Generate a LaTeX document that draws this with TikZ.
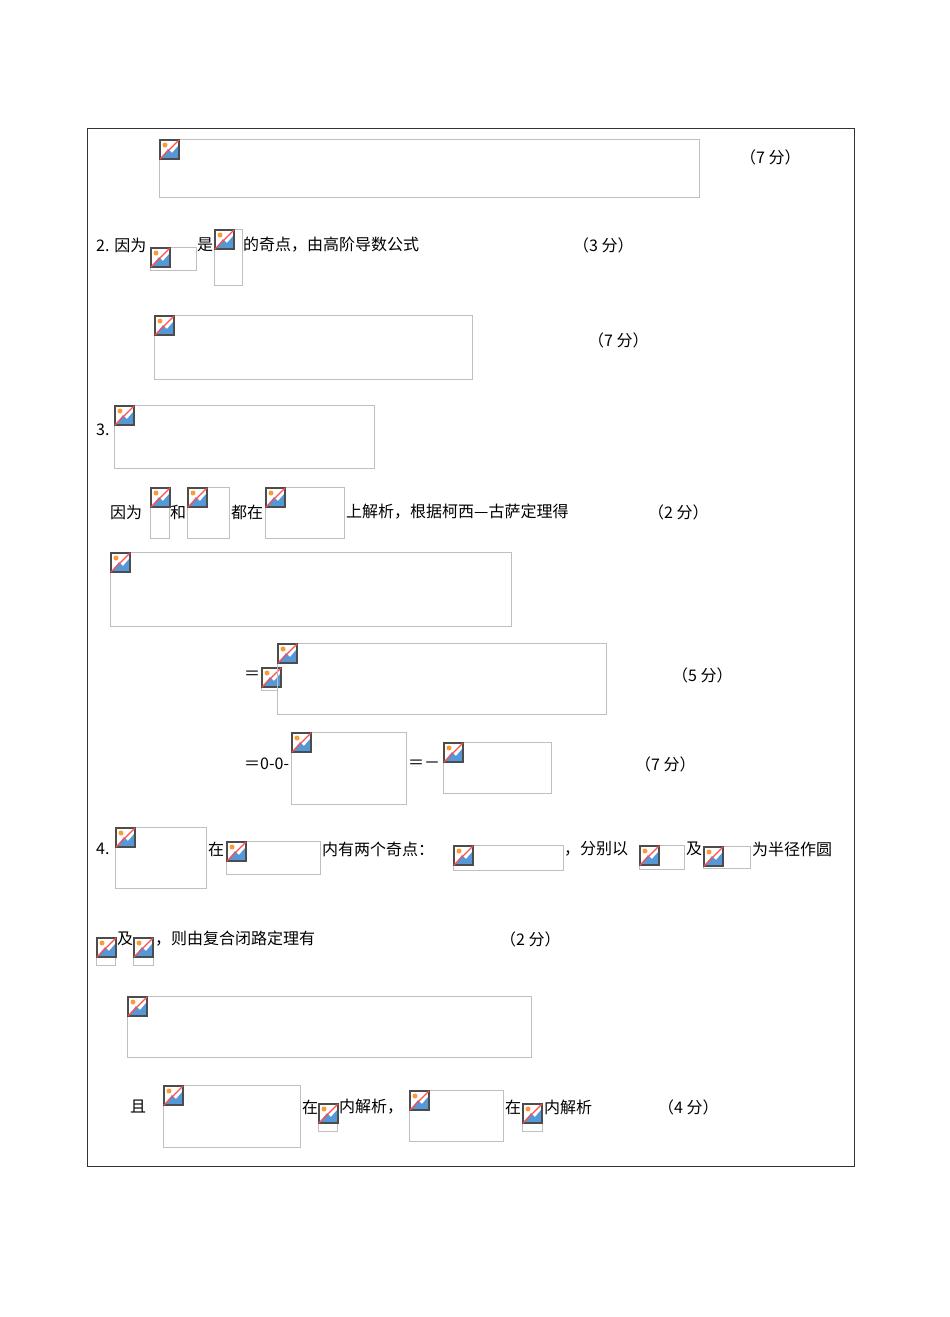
\documentclass[tikz,border=0pt]{standalone}
\usepackage{fontspec}
\setmainfont{Liberation Serif}
\newfontfamily\cjk{Noto Sans CJK SC}
\newcommand\phb[4]{%
  \draw[black!25] (#1,#2) rectangle (#3,#4);
  \begin{scope}[shift={(#1+1,#2+1)}]
    \fill[white] (0,0) rectangle (19,19);
    \fill[cyan!60!blue!70] (1,18) -- (8,9) -- (12,13) -- (18,6) -- (18,18) -- cycle;
    \fill[orange!80] (5,5) circle (2.5);
    \draw[black!70,line width=1.2] (0,0) rectangle (19,19);
    \draw[red!70,line width=1.2] (0,19) -- (19,0);
  \end{scope}}
\tikzset{t/.style={anchor=west,inner sep=0,font=\cjk\fontsize{16}{18}\selectfont}}
\begin{document}
\begin{tikzpicture}[x=1pt,y=-1pt]
\useasboundingbox (0,0) rectangle (950,1317);
\fill[white] (0,0) rectangle (950,1317);
\draw[black!80] (87,128) rectangle (854,1166);
\phb{159}{139}{699}{197}
\node[t] (s1) at (740,157) {（7 分）};
\node[t] (a1) at (96,245) {2. 因为};
\phb{150}{247}{196}{270}
\node[t] (a2) at (197,245) {是};
\phb{214}{229}{242}{285}
\node[t] (a3) at (243,245) {的奇点，由高阶导数公式};
\node[t] (s2) at (573,245) {（3 分）};
\phb{154}{315}{472}{379}
\node[t] (s3) at (588,340) {（7 分）};
\node[t] (b1) at (96,430) {3.};
\phb{114}{405}{374}{468}
\node[t] (b2) at (110,512) {因为};
\phb{150}{487}{169}{538}
\node[t] (b3) at (170,512) {和};
\phb{187}{487}{229}{538}
\node[t] (b4) at (231,512) {都在};
\phb{265}{487}{344}{538}
\node[t] (b5) at (346,512) {上解析，根据柯西—古萨定理得};
\node[t] (s4) at (648,512) {（2 分）};
\phb{110}{552}{511}{626}
\node[t] (c1) at (244,675) {＝};
\phb{261}{667}{277}{690}
\phb{277}{643}{606}{714}
\node[t] (s5) at (672,675) {（5 分）};
\node[t] (d1) at (244,764) {＝0-0-};
\phb{291}{732}{406}{804}
\node[t] (d2) at (408,764) {＝－};
\phb{443}{742}{551}{793}
\node[t] (s6) at (635,764) {（7 分）};
\node[t] (e1) at (96,849) {4.};
\phb{115}{827}{206}{888}
\node[t] (e2) at (208,849) {在};
\phb{226}{841}{320}{874}
\node[t] (e3) at (322,849) {内有两个奇点：};
\phb{453}{845}{563}{870}
\node[t] (e4) at (564,849) {，分别以};
\phb{639}{845}{684}{869}
\node[t] (e5) at (686,849) {及};
\phb{703}{846}{750}{868}
\node[t] (e6) at (752,849) {为半径作圆};
\phb{96}{937}{115}{965}
\node[t] (f1) at (117,939) {及};
\phb{133}{937}{153}{965}
\node[t] (f2) at (155,939) {，则由复合闭路定理有};
\node[t] (s7) at (500,939) {（2 分）};
\phb{127}{996}{531}{1057}
\node[t] (g1) at (130,1107) {且};
\phb{163}{1085}{300}{1147}
\node[t] (g2) at (302,1107) {在};
\phb{318}{1103}{337}{1131}
\node[t] (g3) at (339,1107) {内解析，};
\phb{409}{1090}{503}{1141}
\node[t] (g4) at (505,1107) {在};
\phb{522}{1103}{542}{1131}
\node[t] (g5) at (544,1107) {内解析};
\node[t] (s8) at (658,1107) {（4 分）};
\end{tikzpicture}
\end{document}
